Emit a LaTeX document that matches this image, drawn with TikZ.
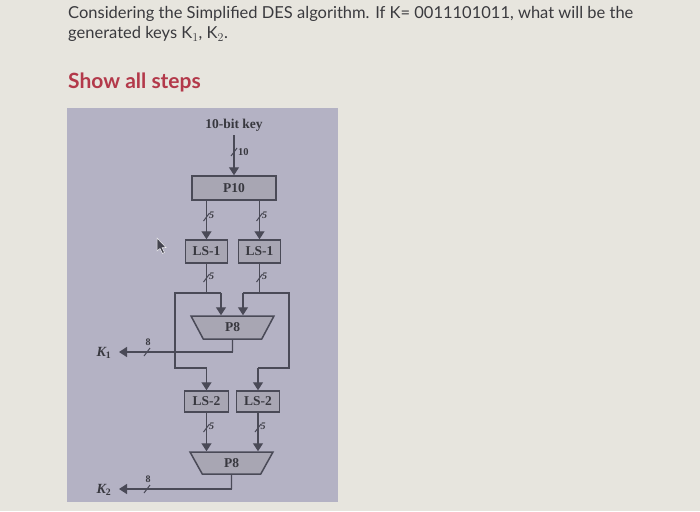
\documentclass[tikz,border=0pt]{standalone}
\usepackage{fontspec}
\setmainfont{Liberation Serif}
\newfontfamily\latofont{Lato}
\usetikzlibrary{arrows.meta,shapes.geometric}
\definecolor{pagebg}{HTML}{E7E5DE}
\definecolor{panelbg}{HTML}{B4B2C4}
\definecolor{boxbg}{HTML}{A8A6B3}
\definecolor{ink}{HTML}{4A4A57}
\definecolor{txt}{HTML}{38383F}
\definecolor{titletxt}{HTML}{3A3A3E}
\definecolor{steps}{HTML}{B3394A}
\tikzset{
  blk/.style={draw=ink, fill=boxbg, line width=1.5pt, inner sep=0pt, text=txt,
    font=\fontsize{13.5}{13.5}\selectfont\bfseries},
  trap/.style={blk, trapezium, trapezium stretches=true, shape border rotate=180,
    trapezium angle=71},
  wire/.style={draw=ink, line width=1.4pt},
  arr/.style={wire, -{Triangle[width=10pt,length=8pt]}},
  slash/.style={draw=ink, line width=1pt},
  bits/.style={text=txt, font=\fontsize{10}{10}\selectfont\bfseries\itshape, inner sep=0pt},
  klab/.style={text=txt, font=\fontsize{14}{14}\selectfont\bfseries\itshape, inner sep=0pt},
  ttl/.style={anchor=base west, inner sep=0pt, text=titletxt, font=\latofont\fontsize{16.5}{16.5}\selectfont},
}
\begin{document}
\begin{tikzpicture}[x=1pt,y=-1pt]
\useasboundingbox (0,0) rectangle (700,511);
\fill[pagebg] (0,0) rectangle (700,511);
% header text
\node[ttl] (t1) at (68,18.5) {Considering the Simplified DES algorithm. If K= 0011101011, what will be the};
\node[ttl] (t2) at (68,39) {generated keys K$_1$, K$_2$.};
\node[anchor=base west, inner sep=0pt, text=steps, font=\latofont\bfseries\fontsize{21}{21}\selectfont] (t3) at (68,88) {Show all steps};
% panel
\fill[panelbg] (67,108) rectangle (338,502);
% cursor
\filldraw[fill=ink!90!black, draw=white!80!panelbg, line width=0.5pt]
  (157,238) -- (157,251) -- (160,248.5) -- (162.5,253.5) -- (164.5,252.5) -- (162,247.5) -- (166,247.5) -- cycle;
% nodes
\node[text=txt, font=\fontsize{13.5}{13.5}\selectfont\bfseries, inner sep=0pt] (key) at (234,125) {10-bit key};
\node[blk, minimum width=84pt, minimum height=24pt] (P10) at (234,188) {P10};
\node[blk, minimum width=42pt, minimum height=23pt] (LS1a) at (206.5,251.5) {LS-1};
\node[blk, minimum width=42pt, minimum height=23pt] (LS1b) at (259.5,251.5) {LS-1};
\node[trap, minimum width=83pt, minimum height=23pt] (P8a) at (232.5,327.5) {P8};
\node[blk, minimum width=44pt, minimum height=21pt] (LS2a) at (206.5,401.5) {LS-2};
\node[blk, minimum width=43pt, minimum height=21pt] (LS2b) at (258,401.5) {LS-2};
\node[trap, minimum width=83pt, minimum height=22pt] (P8b) at (231.5,463) {P8};
\node[klab] (K1) at (104,353) {K$_{\mathbf 1}$};
\node[klab] (K2) at (104,490) {K$_{\mathbf 2}$};
% coordinates
\coordinate (keyb) at (234,135);
\coordinate (jL) at (206.5,293);
\coordinate (jR) at (259.5,293);
\coordinate (jLo) at (175,293);
\coordinate (jLi) at (221,293);
\coordinate (jRi) at (243,293);
\coordinate (jRo) at (289,293);
\coordinate (bL) at (175,368);
\coordinate (bR) at (289,368);
\coordinate (o1) at (232.5,352);
\coordinate (o2) at (231.5,489);
\coordinate (k1t) at (119,352);
\coordinate (k2t) at (119,489);
% connectors
\draw[arr] (keyb) -- (P10.north);
\draw[arr] (P10.south -| LS1a) -- (LS1a.north);
\draw[arr] (P10.south -| LS1b) -- (LS1b.north);
\draw[wire] (LS1a.south) -- (jL);
\draw[wire] (LS1b.south) -- (jR);
\draw[wire] (jLi) -- (jLo) -- (bL) -- (bL -| LS2a);
\draw[arr] (bL -| LS2a) -- (LS2a.north);
\draw[wire] (jRi) -- (jRo) -- (bR) -- (bR -| LS2b);
\draw[arr] (bR -| LS2b) -- (LS2b.north);
\draw[arr] (jLi) -- (jLi |- P8a.north);
\draw[arr] (jRi) -- (jRi |- P8a.north);
\draw[arr] (LS2a.south) -- (LS2a.south |- P8b.north);
\draw[arr] (LS2b.south) -- (LS2b.south |- P8b.north);
\draw[wire] (P8a.south) -- (o1);
\draw[arr] (o1) -- (k1t);
\draw[wire] (P8b.south) -- (o2);
\draw[arr] (o2) -- (k2t);
% bit-width slashes
\foreach \x/\y/\n in {234/152/10}{
  \draw[slash] (\x-3,\y+4) -- (\x+3,\y-4);
  \node[text=txt, font=\fontsize{10.5}{10.5}\selectfont\bfseries, anchor=west, inner sep=0pt] at (\x+4,\y) {\n};
}
\foreach \x/\y in {206.5/217, 259.5/217, 206.5/278, 259.5/278, 206.5/428, 258/428}{
  \draw[slash] (\x-3,\y+4) -- (\x+3,\y-4);
  \node[bits, anchor=west] at (\x+2.5,\y-1.5) {5};
}
\foreach \y in {352,489}{
  \draw[slash] (144,\y+4) -- (150,\y-4);
  \node[bits, font=\fontsize{10}{10}\selectfont\bfseries] at (148,\y-10) {8};
}
\end{tikzpicture}
\end{document}
